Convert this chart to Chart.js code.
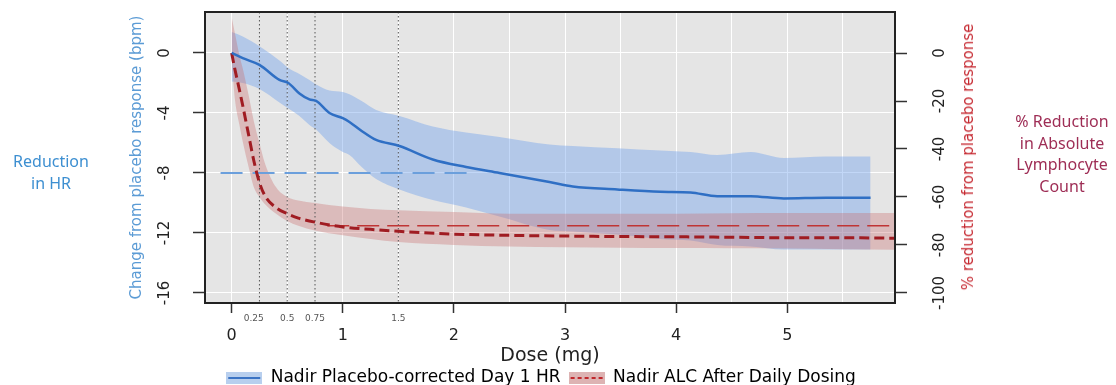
<!DOCTYPE html>
<html>
<head>
<meta charset="utf-8">
<script src="https://cdn.jsdelivr.net/npm/chart.js@4.4.0/dist/chart.umd.min.js"></script>
<style>
  body { margin: 0; background: #fff; }
  #wrap { position: relative; width: 1116px; height: 385px; }
  .note { position: absolute; text-align: center; font-family: "Noto Sans", sans-serif; font-size: 16px; line-height: 21.5px; }
  #hrNote { left: 0; top: 151px; width: 102px; color: #3d8fd1; }
  #alcNote { left: 1008px; top: 111px; width: 108px; color: #9e2d55; }
  #rightTitle { position: absolute; left: 968px; top: 157px; transform: translate(-50%, -50%) rotate(-90deg);
    white-space: nowrap; font-family: "DejaVu Sans", sans-serif; font-size: 15px; color: #c62a32; }
</style>
</head>
<body>
<div id="wrap">
  <canvas id="doseChart" width="1116" height="385"></canvas>
  <div id="hrNote" class="note">Reduction<br>in HR</div>
  <div id="alcNote" class="note">% Reduction<br>in Absolute<br>Lymphocyte<br>Count</div>
  <div id="rightTitle">% reduction from placebo response</div>
</div>
<script>
// Nadir placebo-corrected day 1 HR (bpm), left axis
var hrDose  = [0, 0.1, 0.25, 0.43, 0.51, 0.61, 0.7, 0.76, 0.88, 1.0, 1.06, 1.17, 1.3, 1.51, 1.81, 2.11, 2.41, 2.86, 3.07, 3.47, 3.86, 4.13, 4.37, 4.67, 4.97, 5.35, 5.75];
var hrMean  = [0, -0.35, -0.8, -1.8, -2.0, -2.7, -3.1, -3.2, -4.0, -4.35, -4.6, -5.2, -5.8, -6.2, -7.1, -7.6, -8.0, -8.6, -8.9, -9.1, -9.25, -9.3, -9.55, -9.55, -9.7, -9.65, -9.65];
var hrUpper = [1.4, 1.1, 0.45, -0.5, -1.0, -1.4, -1.8, -2.1, -2.5, -2.6, -2.75, -3.2, -3.8, -4.2, -4.9, -5.3, -5.6, -6.1, -6.2, -6.35, -6.5, -6.6, -6.8, -6.6, -7.0, -6.9, -6.9];
var hrLower = [-1.9, -2.0, -2.4, -3.3, -3.7, -4.2, -4.8, -5.1, -6.0, -6.6, -6.8, -7.6, -8.4, -9.1, -9.8, -10.3, -10.9, -11.8, -11.9, -12.1, -12.4, -12.5, -12.8, -12.9, -13.1, -13.1, -13.1];

// Nadir ALC after daily dosing (% reduction), right axis
var alcDose  = [0, 0.03, 0.07, 0.1, 0.15, 0.2, 0.25, 0.3, 0.4, 0.5, 0.6, 0.75, 1.0, 1.25, 1.5, 2.0, 2.5, 3.0, 3.5, 4.0, 4.5, 5.0, 5.5, 5.97];
var alcMean  = [0, -7, -15.4, -22, -33.5, -45, -54, -59.5, -64.5, -67, -68.8, -70.5, -72.5, -73.5, -74.3, -75.5, -76, -76.3, -76.5, -76.6, -76.8, -77, -77, -77.2];
var alcUpper = [15, 8, -1, -6.5, -17, -28.5, -37.5, -46, -56, -60, -61.5, -62.5, -64, -65, -65.5, -66.3, -67, -67, -67, -67, -66.8, -66.7, -66.7, -66.7];
var alcLower = [-3, -19.6, -30, -37, -47, -56, -60, -63, -67, -70, -72, -74, -76, -77.5, -78.8, -80, -80.7, -81, -81.2, -81.3, -81.4, -81.5, -81.8, -82];

// reference lines
var hrThreshold = -8, hrThresholdDose = [-0.1, 2.2];
var alcThreshold = -72, alcThresholdDose = [0.86, 5.97];
var markerDoses = [0.25, 0.5, 0.75, 1.5];

// axes
var xMajorTicks = [0, 1, 2, 3, 4, 5];
var xMinorLabels = [0.25, 0.5, 0.75, 1.5];
var xGridTicks = [0, 0.25, 0.5, 0.75, 1, 1.5, 2, 2.5, 3, 3.5, 4, 4.5, 5, 5.5];
var hrTicks = [0, -4, -8, -12, -16];
var alcTicks = [0, -20, -40, -60, -80, -100];
var xMin = -0.24, xMax = 5.97;
var hrMin = -16.67, hrMax = 2.73;
var alcMin = -104.2, alcMax = 17.1;

function pts(xs, ys) {
    return xs.map(function (x, i) { return {x: x, y: ys[i]}; });
}

function swatch(fill, line, dash) {
    var c = document.createElement('canvas');
    c.width = 36; c.height = 12;
    var g = c.getContext('2d');
    g.fillStyle = fill;
    g.fillRect(0, 0, 36, 12);
    g.strokeStyle = line;
    g.lineWidth = 2;
    g.setLineDash(dash);
    g.beginPath(); g.moveTo(2, 6); g.lineTo(34, 6); g.stroke();
    return c;
}

// no extra room for rotated labels, the layout padding sets the plot box
function noScalePadding(s) {
    s.paddingTop = 0; s.paddingBottom = 0; s.paddingLeft = 0; s.paddingRight = 0;
}

var plotFrame = {
    id: 'plotFrame',
    beforeDraw: function (chart) {
        var a = chart.chartArea, ctx = chart.ctx;
        ctx.save();
        ctx.fillStyle = '#e5e5e5';
        ctx.fillRect(a.left, a.top, a.right - a.left, a.bottom - a.top);
        ctx.restore();
    },
    afterDraw: function (chart) {
        var a = chart.chartArea, ctx = chart.ctx;
        ctx.save();
        ctx.strokeStyle = '#222';
        ctx.lineWidth = 2;
        ctx.strokeRect(a.left, a.top, a.right - a.left, a.bottom - a.top);
        ctx.restore();
    }
};

var datasets = [
    {data: pts(hrDose, hrUpper), yAxisID: 'y', borderWidth: 0, fill: '+1', backgroundColor: 'rgba(110,160,235,0.42)', order: 9},
    {data: pts(hrDose, hrLower), yAxisID: 'y', borderWidth: 0, fill: false, order: 9},
    {data: pts(alcDose, alcUpper), yAxisID: 'y2', borderWidth: 0, fill: '+1', backgroundColor: 'rgba(200,110,110,0.35)', order: 8},
    {data: pts(alcDose, alcLower), yAxisID: 'y2', borderWidth: 0, fill: false, order: 8},
    {data: pts(hrDose, hrMean), yAxisID: 'y', borderColor: '#2f6fc4', borderWidth: 2.5, order: 1},
    {data: pts(alcDose, alcMean), yAxisID: 'y2', borderColor: '#a01c22', borderWidth: 3, borderDash: [10, 5], order: 2},
    {data: pts(hrThresholdDose, [hrThreshold, hrThreshold]), yAxisID: 'y', borderColor: '#6b9fdc', borderWidth: 2, borderDash: [22, 10], order: 4},
    {data: pts(alcThresholdDose, [alcThreshold, alcThreshold]), yAxisID: 'y2', borderColor: '#c03434', borderWidth: 1.5, borderDash: [22, 8], order: 4}
];
markerDoses.forEach(function (d) {
    datasets.push({data: pts([d, d], [hrMax, hrMin]), yAxisID: 'y', borderColor: '#555', borderWidth: 1, borderDash: [1.5, 2.5], order: 6});
});
datasets.forEach(function (ds) {
    ds.pointRadius = 0;
    if (ds.data.length > 2) ds.cubicInterpolationMode = 'monotone';
});

var tickFont = {family: 'DejaVu Sans', size: 15};

new Chart(document.getElementById('doseChart').getContext('2d'), {
    type: 'line',
    data: {datasets: datasets},
    plugins: [plotFrame],
    options: {
        responsive: false,
        animation: false,
        devicePixelRatio: 1,
        events: [],
        layout: {padding: {left: 105, right: 139, top: 12, bottom: -11.5}},
        scales: {
            x: {
                type: 'linear', min: xMin, max: xMax,
                afterBuildTicks: function (s) { s.ticks = xGridTicks.map(function (v) { return {value: v}; }); },
                afterFit: function (s) { s.height = 58.5; noScalePadding(s); },
                border: {display: false},
                grid: {
                    color: function (c) { return c.tick && c.tick.value % 0.5 === 0 ? '#ffffff' : 'rgba(0,0,0,0)'; },
                    tickColor: function (c) { return c.tick && Number.isInteger(c.tick.value) ? '#333' : 'rgba(0,0,0,0)'; },
                    tickLength: 10, tickWidth: 1.5
                },
                ticks: {
                    autoSkip: false, minRotation: 0, maxRotation: 0, padding: 0,
                    callback: function (v) {
                        if (xMajorTicks.indexOf(v) >= 0) return ['', String(v)];
                        if (xMinorLabels.indexOf(v) >= 0) return v === 0.25 ? ['0.25    '] : [String(v)];
                        return '';
                    },
                    font: function (c) {
                        return c.tick && Number.isInteger(c.tick.value)
                            ? {family: 'DejaVu Sans', size: 16, lineHeight: 0.94}
                            : {family: 'DejaVu Sans', size: 9, lineHeight: 1.2};
                    },
                    color: function (c) { return c.tick && Number.isInteger(c.tick.value) ? '#222' : '#555'; }
                },
                title: {display: true, text: 'Dose (mg)', color: '#222', font: {family: 'DejaVu Sans', size: 19, lineHeight: 0.57}, padding: {top: 0, bottom: 0}}
            },
            y: {
                position: 'left', min: hrMin, max: hrMax,
                afterBuildTicks: function (s) { s.ticks = hrTicks.map(function (v) { return {value: v}; }); },
                afterFit: function (s) { s.width = 100; noScalePadding(s); },
                border: {display: false},
                grid: {color: '#ffffff', lineWidth: 1, tickColor: '#333', tickLength: 12, tickWidth: 1.5},
                ticks: {minRotation: 90, maxRotation: 90, crossAlign: 'center', padding: 16, color: '#222', font: tickFont},
                title: {display: true, text: 'Change from placebo response (bpm)', color: '#5b9bd5', font: {family: 'DejaVu Sans', size: 15}, padding: {top: 23, bottom: 0}}
            },
            y2: {
                position: 'right', min: alcMin, max: alcMax,
                afterBuildTicks: function (s) { s.ticks = alcTicks.map(function (v) { return {value: v}; }); },
                afterFit: function (s) { s.width = 82; noScalePadding(s); },
                border: {display: false},
                grid: {drawOnChartArea: false, tickColor: '#333', tickLength: 12, tickWidth: 1.5},
                ticks: {minRotation: 90, maxRotation: 90, crossAlign: 'center', padding: 16, color: '#222', font: tickFont}
            }
        },
        plugins: {
            tooltip: {enabled: false},
            legend: {
                position: 'bottom',
                labels: {
                    usePointStyle: true, pointStyleWidth: 36, padding: 8, color: '#222',
                    font: {family: 'DejaVu Sans', size: 17},
                    generateLabels: function () {
                        return [
                            {text: 'Nadir Placebo-corrected Day 1 HR', pointStyle: swatch('#b8cfee', '#3a73c4', []), fillStyle: 'rgba(0,0,0,0)', strokeStyle: 'rgba(0,0,0,0)', lineWidth: 0, hidden: false, datasetIndex: 4},
                            {text: 'Nadir ALC After Daily Dosing', pointStyle: swatch('#ddb3b3', '#c0282d', [4, 3]), fillStyle: 'rgba(0,0,0,0)', strokeStyle: 'rgba(0,0,0,0)', lineWidth: 0, hidden: false, datasetIndex: 5}
                        ];
                    }
                }
            }
        }
    }
});
</script>
</body>
</html>
